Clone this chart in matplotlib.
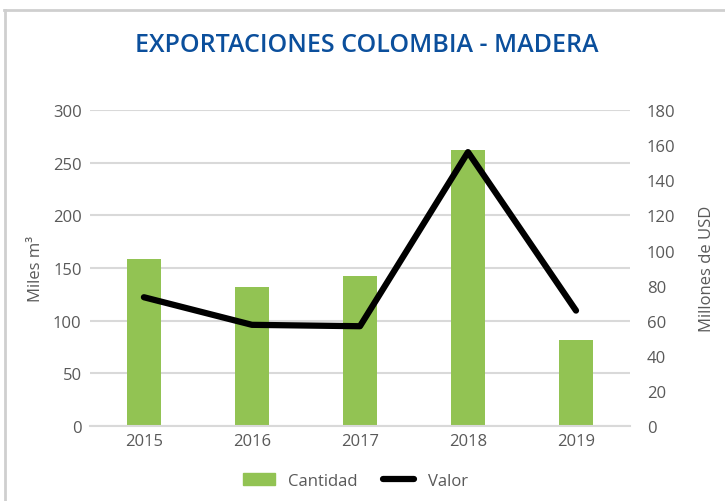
import matplotlib.pyplot as plt
from matplotlib.lines import Line2D
from matplotlib.patches import Patch

years = ['2015', '2016', '2017', '2018', '2019']
cantidad = [158.7, 132.4, 142.4, 262, 82]   # miles m3
valor = [73.4, 57.7, 56.9, 156, 65.8]       # millones USD

green = '#92C353'
grid_c = '#D9D9D9'
text_c = '#595959'

plt.rcParams['font.family'] = ['Open Sans', 'DejaVu Sans']

fig = plt.figure(figsize=(7.25, 5.02), dpi=100)
ax = fig.add_axes([0.124, 0.149, 0.745, 0.63])
ax2 = ax.twinx()

x = range(len(years))
ax.bar(x, cantidad, width=0.32, color=green, zorder=2)
ax2.plot(x, valor, color='black', linewidth=4.5, solid_capstyle='round', zorder=3)

ax.set_xlim(-0.5, 4.5)
ax.set_ylim(0, 300)
ax.set_yticks(range(0, 301, 50))
ax2.set_ylim(0, 180)
ax2.set_yticks(range(0, 181, 20))
ax.set_xticks(list(x))
ax.set_xticklabels(years)

ax.yaxis.grid(True, color=grid_c, linewidth=1.5, zorder=0)
ax.set_axisbelow(True)
for a in (ax, ax2):
    for s in a.spines.values():
        s.set_visible(False)
    a.tick_params(length=0, labelsize=12, labelcolor=text_c)
ax.spines['bottom'].set_visible(True)
ax.spines['bottom'].set_color(grid_c)
ax.spines['bottom'].set_linewidth(1.5)
ax.tick_params(axis='y', pad=6)
ax.tick_params(axis='x', pad=5)
ax2.tick_params(axis='y', pad=12)

ax.set_ylabel('Miles m³', fontsize=12, color=text_c, labelpad=6)
ax2.set_ylabel('Millones de USD', fontsize=12, color=text_c, labelpad=17)

fig.text(0.506, 0.91, 'EXPORTACIONES COLOMBIA - MADERA', ha='center', va='center',
         fontsize=18, fontweight='semibold', color='#0B4F9C')

handles = [Patch(color=green), Line2D([0], [0], color='black', linewidth=4.5, solid_capstyle='round')]
fig.legend(handles, ['Cantidad', 'Valor'], loc='center', bbox_to_anchor=(0.49, 0.04), ncol=2,
           frameon=False, fontsize=12, labelcolor=text_c, handlelength=1.9, columnspacing=1.5)

# marco gris del grafico
fig.add_artist(Line2D([0.007, 0.007], [0, 0.978], color='#CFCFCF', linewidth=2, transform=fig.transFigure))
fig.add_artist(Line2D([0.006, 1], [0.978, 0.978], color='#CFCFCF', linewidth=2, transform=fig.transFigure))

fig.savefig('out.png', dpi=100)
